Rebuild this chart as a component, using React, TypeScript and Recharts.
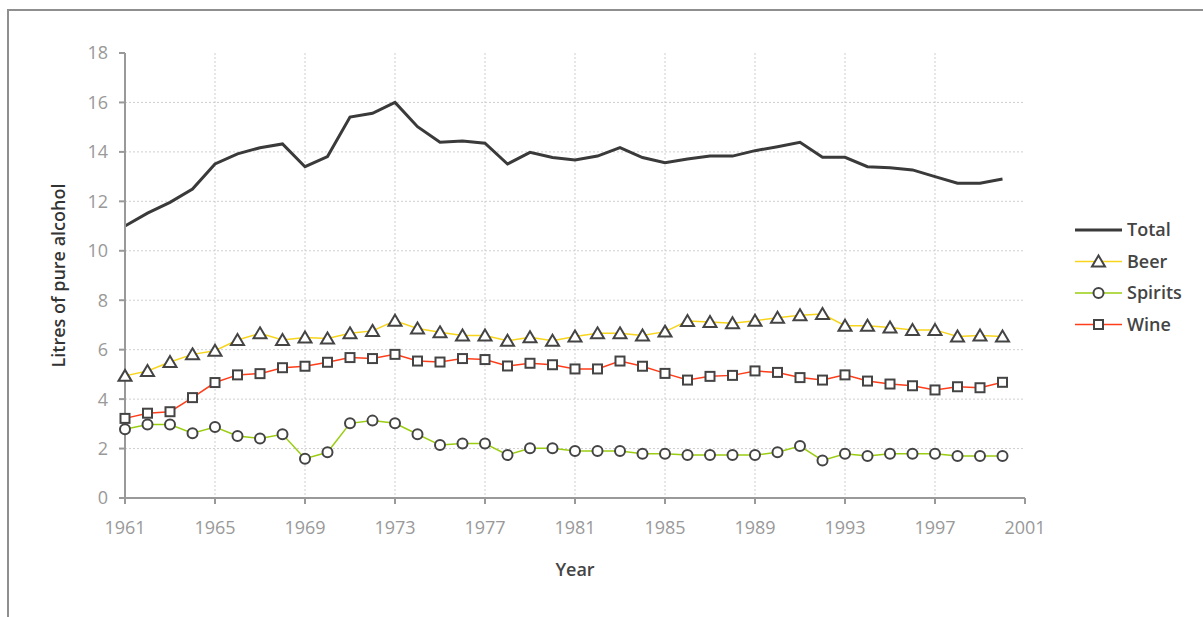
import React from "react";
import {
  LineChart,
  Line,
  XAxis,
  YAxis,
  CartesianGrid,
  Legend,
} from "recharts";

const years = [
  1961, 1962, 1963, 1964, 1965, 1966, 1967, 1968, 1969, 1970,
  1971, 1972, 1973, 1974, 1975, 1976, 1977, 1978, 1979, 1980,
  1981, 1982, 1983, 1984, 1985, 1986, 1987, 1988, 1989, 1990,
  1991, 1992, 1993, 1994, 1995, 1996, 1997, 1998, 1999, 2000,
];

const total = [
  11.0, 11.52, 11.96, 12.5, 13.51, 13.92, 14.17, 14.32, 13.4, 13.81,
  15.41, 15.56, 16.0, 15.02, 14.39, 14.44, 14.35, 13.51, 13.98, 13.77,
  13.67, 13.83, 14.17, 13.77, 13.56, 13.71, 13.83, 13.83, 14.05, 14.21,
  14.39, 13.78, 13.78, 13.4, 13.36, 13.27, 13.0, 12.73, 12.73, 12.9,
];

const beer = [
  4.94, 5.14, 5.5, 5.81, 5.96, 6.39, 6.66, 6.39, 6.49, 6.45,
  6.66, 6.76, 7.17, 6.86, 6.7, 6.57, 6.57, 6.36, 6.5, 6.36,
  6.53, 6.66, 6.66, 6.57, 6.73, 7.16, 7.12, 7.07, 7.17, 7.29,
  7.39, 7.44, 6.97, 6.97, 6.9, 6.8, 6.8, 6.53, 6.57, 6.53,
];

const spirits = [
  2.78, 2.97, 2.97, 2.62, 2.87, 2.51, 2.41, 2.58, 1.59, 1.85,
  3.02, 3.13, 3.02, 2.58, 2.14, 2.2, 2.2, 1.74, 2.01, 2.01,
  1.9, 1.9, 1.9, 1.79, 1.79, 1.74, 1.74, 1.74, 1.74, 1.85,
  2.1, 1.52, 1.79, 1.7, 1.79, 1.79, 1.79, 1.7, 1.7, 1.7,
];

const wine = [
  3.22, 3.43, 3.49, 4.06, 4.67, 4.98, 5.03, 5.27, 5.33, 5.49,
  5.68, 5.64, 5.81, 5.54, 5.5, 5.64, 5.6, 5.34, 5.45, 5.39,
  5.22, 5.22, 5.54, 5.33, 5.04, 4.77, 4.92, 4.96, 5.14, 5.08,
  4.87, 4.77, 4.98, 4.73, 4.61, 4.54, 4.37, 4.5, 4.46, 4.68,
];

const xTicks = [1961, 1965, 1969, 1973, 1977, 1981, 1985, 1989, 1993, 1997, 2001];
const yTicks = [0, 2, 4, 6, 8, 10, 12, 14, 16, 18];

const data = years.map((year, i) => ({
  year,
  total: total[i],
  beer: beer[i],
  spirits: spirits[i],
  wine: wine[i],
}));

const FONT = "'Open Sans', sans-serif";
const AXIS = "#999";
const MARK = "#444";

const triangle = (cx: number, cy: number) =>
  `M${cx},${cy - 6} L${cx + 6.5},${cy + 5} L${cx - 6.5},${cy + 5} Z`;

const BeerDot = (props: any) => {
  const { cx, cy, index } = props;
  if (cx == null || cy == null) return <g key={`b${index}`} />;
  return (
    <path key={`b${index}`} d={triangle(cx, cy)} fill="#fff" stroke={MARK} strokeWidth={2} strokeLinejoin="miter" />
  );
};

const SpiritsDot = (props: any) => {
  const { cx, cy, index } = props;
  if (cx == null || cy == null) return <g key={`s${index}`} />;
  return <circle key={`s${index}`} cx={cx} cy={cy} r={5} fill="#fff" stroke={MARK} strokeWidth={2} />;
};

const WineDot = (props: any) => {
  const { cx, cy, index } = props;
  if (cx == null || cy == null) return <g key={`w${index}`} />;
  return (
    <rect key={`w${index}`} x={cx - 4.5} y={cy - 4.5} width={9} height={9} fill="#fff" stroke={MARK} strokeWidth={2} />
  );
};

const legendRows = [
  { name: "Total", color: "#3a3a3a", width: 3, marker: "none" },
  { name: "Beer", color: "#f7d51d", width: 1.5, marker: "triangle" },
  { name: "Spirits", color: "#9acd12", width: 1.5, marker: "circle" },
  { name: "Wine", color: "#ff3d1a", width: 1.5, marker: "square" },
];

const LegendBox = () => (
  <svg width={125} height={130}>
    {legendRows.map((row, i) => {
      const y = 16 + i * 31.5;
      return (
        <g key={row.name}>
          <line x1={0} x2={47} y1={y} y2={y} stroke={row.color} strokeWidth={row.width} />
          {row.marker === "triangle" && (
            <path d={triangle(23.5, y)} fill="#fff" stroke={MARK} strokeWidth={2} />
          )}
          {row.marker === "circle" && (
            <circle cx={23.5} cy={y} r={5} fill="#fff" stroke={MARK} strokeWidth={2} />
          )}
          {row.marker === "square" && (
            <rect x={19} y={y - 4.5} width={9} height={9} fill="#fff" stroke={MARK} strokeWidth={2} />
          )}
          <text
            x={52}
            y={y}
            dy="0.35em"
            fill="#444"
            fontFamily={FONT}
            fontSize={18}
            fontWeight={600}
          >
            {row.name}
          </text>
        </g>
      );
    })}
  </svg>
);

const YLabel = (props: any) => {
  const vb = props.viewBox || {};
  const cx = 58;
  const cy = (vb.y ?? 53) + (vb.height ?? 445) / 2;
  return (
    <text
      x={cx}
      y={cy}
      transform={`rotate(-90 ${cx} ${cy})`}
      textAnchor="middle"
      dominantBaseline="central"
      fill="#333"
      fontFamily={FONT}
      fontSize={18}
      fontWeight={600}
    >
      Litres of pure alcohol
    </text>
  );
};

export default function App() {
  return (
    <div
      style={{
        position: "absolute",
        left: 0,
        top: 0,
        width: 1203,
        height: 617,
        overflow: "hidden",
        background: "#fff",
      }}
    >
      <div
        style={{
          position: "absolute",
          left: 7,
          top: 9,
          width: 1300,
          height: 800,
          borderLeft: "2px solid #8f8f8f",
          borderTop: "2px solid #8f8f8f",
        }}
      />
      <div style={{ position: "absolute", left: 0, top: 0 }}>
        <LineChart
          width={1203}
          height={617}
          data={data}
          margin={{ top: 53, right: 178, bottom: 39, left: 0 }}
        >
          <CartesianGrid
            stroke="#cfcfcf"
            strokeDasharray="2 2"
            horizontalValues={[2, 4, 6, 8, 10, 12, 14, 16]}
            verticalValues={[1965, 1969, 1973, 1977, 1981, 1985, 1989, 1993, 1997]}
          />
          <XAxis
            dataKey="year"
            type="number"
            domain={[1961, 2001]}
            ticks={xTicks}
            interval={0}
            height={80}
            tickSize={6}
            tickMargin={17}
            axisLine={{ stroke: AXIS, strokeWidth: 2 }}
            tickLine={{ stroke: AXIS, strokeWidth: 2 }}
            tick={{ fill: AXIS, fontSize: 18, fontFamily: FONT }}
            label={{
              value: "Year",
              position: "insideBottom",
              offset: 2,
              fill: "#444",
              fontSize: 18,
              fontWeight: 600,
              fontFamily: FONT,
            }}
          />
          <YAxis
            type="number"
            domain={[0, 18]}
            ticks={yTicks}
            interval={0}
            width={125}
            tickSize={6}
            tickMargin={11}
            axisLine={{ stroke: AXIS, strokeWidth: 2 }}
            tickLine={{ stroke: AXIS, strokeWidth: 2 }}
            tick={{ fill: AXIS, fontSize: 18, fontFamily: FONT }}
            label={<YLabel />}
          />
          <Legend
            layout="vertical"
            align="center"
            verticalAlign="middle"
            content={() => <LegendBox />}
            wrapperStyle={{ position: "absolute", left: 1075, top: 214, width: 125, height: 130 }}
          />
          <Line
            dataKey="total"
            name="Total"
            stroke="#3a3a3a"
            strokeWidth={3}
            dot={false}
            activeDot={false}
            isAnimationActive={false}
          />
          <Line
            dataKey="wine"
            name="Wine"
            stroke="#ff3d1a"
            strokeWidth={1.5}
            dot={WineDot}
            activeDot={false}
            isAnimationActive={false}
          />
          <Line
            dataKey="beer"
            name="Beer"
            stroke="#f7d51d"
            strokeWidth={1.5}
            dot={BeerDot}
            activeDot={false}
            isAnimationActive={false}
          />
          <Line
            dataKey="spirits"
            name="Spirits"
            stroke="#9acd12"
            strokeWidth={1.5}
            dot={SpiritsDot}
            activeDot={false}
            isAnimationActive={false}
          />
        </LineChart>
      </div>
    </div>
  );
}
